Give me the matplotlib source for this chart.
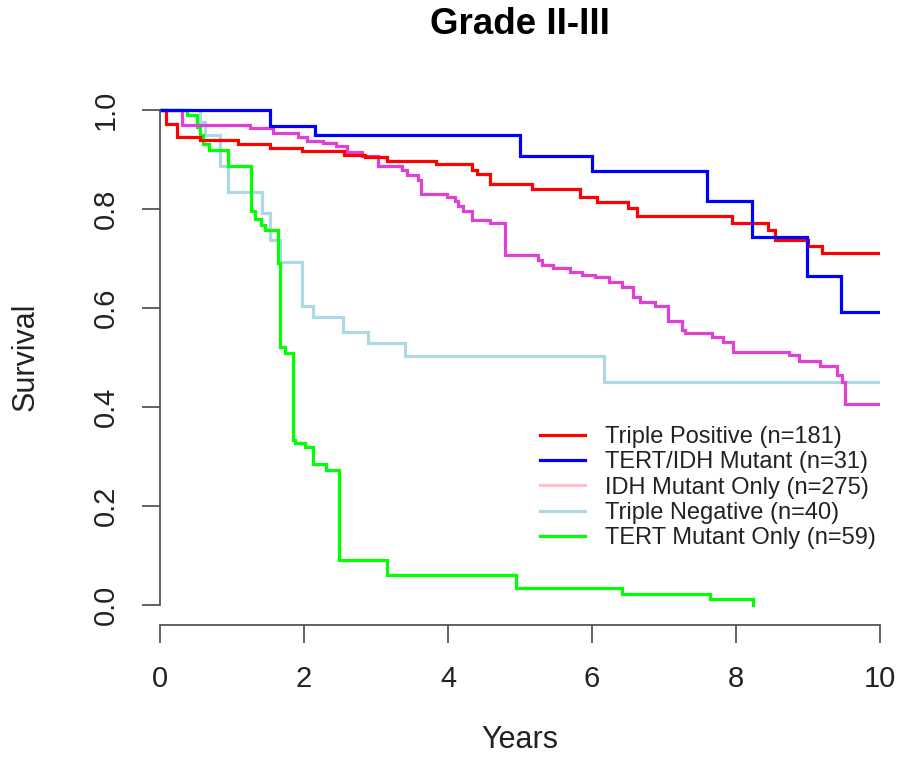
import matplotlib
matplotlib.use("Agg")
import matplotlib.pyplot as plt
from matplotlib.lines import Line2D

plt.rcParams['font.family'] = ['Liberation Sans', 'DejaVu Sans']

# ---- data (Kaplan-Meier step curves) ----
tp_t = [0, 0.09, 0.23, 0.56, 1.08, 1.53, 1.97, 2.55, 2.85, 3.15, 3.84, 4.33, 4.40, 4.58,
        5.16, 5.83, 6.07, 6.50, 6.63, 7.95, 8.44, 8.54, 9.00, 9.20, 10.0]
tp_s = [1.0, 0.971, 0.946, 0.939, 0.931, 0.923, 0.916, 0.909, 0.904, 0.897, 0.890, 0.879,
        0.870, 0.850, 0.840, 0.823, 0.813, 0.801, 0.785, 0.772, 0.758, 0.737, 0.725, 0.711, 0.711]

ti_t = [0, 1.53, 2.15, 5.00, 6.00, 7.60, 8.22, 8.98, 9.46, 10.0]
ti_s = [1.0, 0.968, 0.950, 0.906, 0.877, 0.815, 0.744, 0.665, 0.592, 0.592]

idh_t = [0, 0.30, 1.25, 1.57, 1.92, 2.04, 2.27, 2.45, 2.60, 2.80, 3.03, 3.36, 3.43, 3.59,
         3.63, 3.98, 4.10, 4.14, 4.21, 4.33, 4.58, 4.79, 5.25, 5.30, 5.46, 5.69, 5.86,
         6.04, 6.23, 6.41, 6.57, 6.67, 6.88, 7.06, 7.25, 7.29, 7.66, 7.82, 7.96, 8.73,
         8.87, 9.17, 9.40, 9.47, 9.51, 10.0]
idh_s = [1.0, 0.970, 0.963, 0.954, 0.946, 0.938, 0.933, 0.926, 0.915, 0.906, 0.886, 0.879,
         0.869, 0.859, 0.830, 0.825, 0.815, 0.805, 0.795, 0.778, 0.771, 0.707, 0.697, 0.687,
         0.680, 0.673, 0.667, 0.663, 0.653, 0.643, 0.623, 0.613, 0.603, 0.573, 0.556, 0.549,
         0.542, 0.532, 0.512, 0.505, 0.492, 0.482, 0.465, 0.451, 0.407, 0.407]

tn_t = [0, 0.55, 0.63, 0.83, 0.95, 1.41, 1.53, 1.67, 1.97, 2.13, 2.54, 2.89, 3.40, 6.17, 10.0]
tn_s = [1.0, 0.975, 0.950, 0.886, 0.835, 0.791, 0.737, 0.692, 0.603, 0.581, 0.552, 0.529,
        0.503, 0.451, 0.451]

tert_t = [0, 0.37, 0.51, 0.55, 0.60, 0.68, 0.95, 1.27, 1.32, 1.40, 1.46, 1.64, 1.67, 1.73,
          1.85, 1.87, 2.01, 2.13, 2.30, 2.49, 3.15, 4.95, 6.41, 7.64, 8.24]
tert_s = [1.0, 0.990, 0.966, 0.949, 0.932, 0.919, 0.886, 0.795, 0.780, 0.768, 0.758, 0.690,
          0.522, 0.510, 0.333, 0.327, 0.320, 0.286, 0.273, 0.092, 0.061, 0.034, 0.022, 0.012, 0.0]

labels = ["Triple Positive (n=181)", "TERT/IDH Mutant (n=31)", "IDH Mutant Only (n=275)",
          "Triple Negative (n=40)", "TERT Mutant Only (n=59)"]
line_colors = ["#FF0000", "#0000FF", "#E040D6", "#ADD8E6", "#00FF00"]
legend_colors = ["#FF0000", "#0000FF", "#FFC0CB", "#ADD8E6", "#00FF00"]

x_ticks = [0, 2, 4, 6, 8, 10]
y_ticks = [0.0, 0.2, 0.4, 0.6, 0.8, 1.0]
y_ticklabels = ["0.0", "0.2", "0.4", "0.6", "0.8", "1.0"]

W, H = 900, 758
fig = plt.figure(figsize=(W / 100, H / 100), dpi=100)
ax = fig.add_axes([160 / W, (H - 625) / H, 720 / W, 535 / H])

series = [(tp_t, tp_s), (ti_t, ti_s), (idh_t, idh_s), (tn_t, tn_s), (tert_t, tert_s)]
order = [3, 4, 2, 0, 1]
for i in order:
    t, s = series[i]
    ax.step(t, s, where='post', color=line_colors[i], lw=2.3, solid_joinstyle='miter')

ax.set_xlim(0, 10)
ax.set_ylim(-0.04, 1.04)

for sp in ['top', 'right']:
    ax.spines[sp].set_visible(False)
ax.spines['left'].set_bounds(0, 1)
ax.spines['bottom'].set_bounds(0, 10)
for sp in ['left', 'bottom']:
    ax.spines[sp].set_color('#555555')
    ax.spines[sp].set_linewidth(1.3)

ax.set_xticks(x_ticks)
ax.set_yticks(y_ticks)
ax.set_yticklabels(y_ticklabels, rotation=90, va='center')
ax.tick_params(axis='both', direction='out', length=13, width=1.3, color='#555555',
               labelsize=21, labelcolor='#222222')
ax.tick_params(axis='x', pad=16)
ax.tick_params(axis='y', pad=16)

fig.text(520 / W, 1 - 740 / H, "Years", ha='center', va='center', fontsize=22,
         color='#222222')
fig.text(26 / W, 1 - 357 / H, "Survival", ha='center', va='center', fontsize=22,
         color='#222222', rotation=90)
fig.text(520 / W, 1 - 25 / H, "Grade II-III", ha='center', va='center',
         fontsize=26.5, fontweight='bold')

handles = [Line2D([0], [0], color=c, lw=2.3) for c in legend_colors]
ax.legend(handles, labels, loc='upper left', bbox_to_anchor=(0.5278, 0.372), frameon=False,
          fontsize=17, handlelength=1.9, handletextpad=0.85, labelspacing=0.14,
          labelcolor='#222222', borderaxespad=0, borderpad=0)

fig.savefig("out.png", dpi=100)
